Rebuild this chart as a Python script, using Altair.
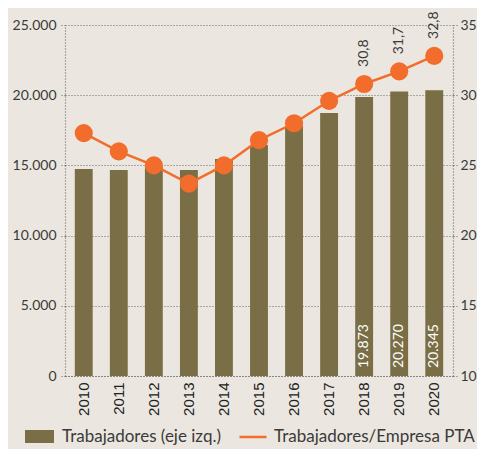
import altair as alt
import pandas as pd

years = ["2010", "2011", "2012", "2013", "2014", "2015", "2016", "2017", "2018", "2019", "2020"]
trabajadores = [14750, 14680, 14900, 14680, 15450, 16450, 17800, 18730, 19873, 20270, 20345]
ratio = [27.3, 26.0, 25.0, 23.7, 25.0, 26.8, 28.0, 29.6, 30.8, 31.7, 32.8]
labeled_years = ["2018", "2019", "2020"]
left_ticks = [0, 5000, 10000, 15000, 20000, 25000]
right_ticks = [10, 15, 20, 25, 30, 35]
bar_name = "Trabajadores (eje izq.)"
line_name = "Trabajadores/Empresa PTA"

BAR = "#7a6e46"
ORANGE = "#f26c2b"
BG = "#ebe7e0"
TXT = "#3a3a3a"
FONT = "Lato"

df = pd.DataFrame({
    "year": years,
    "trab": trabajadores,
    "ratio": ratio,
    "bar_serie": [bar_name] * len(years),
    "line_serie": [line_name] * len(years),
    "lab": [y in labeled_years for y in years],
})

base = alt.Chart(df)

x = alt.X(
    "year:O",
    title=None,
    scale=alt.Scale(paddingInner=0.49, paddingOuter=0.28),
    axis=alt.Axis(
        labelAngle=270, labelFont="Liberation Sans", labelFontSize=15,
        labelColor="#222222", ticks=False, labelPadding=6,
        domain=True, domainColor="#666666", domainDash=[1, 2], domainWidth=1.2,
        labelAlign="right", labelBaseline="middle",
    ),
)

y_left = alt.Y(
    "trab:Q",
    title=None,
    scale=alt.Scale(domain=[0, 25000], nice=False),
    axis=alt.Axis(
        values=left_ticks, format=",d", labelFont=FONT, labelFontSize=14,
        labelColor=TXT, grid=True, gridColor="#666666", gridDash=[1, 2],
        gridWidth=1, domain=True, domainColor="#666666", domainDash=[1, 2],
        domainWidth=1.2, tickColor="#666666", tickDash=[1, 2], tickSize=6,
        labelPadding=3,
    ),
)

bars = base.mark_bar(color=BAR).encode(
    x=x,
    y=y_left,
    color=alt.Color(
        "bar_serie:N",
        scale=alt.Scale(domain=[bar_name], range=[BAR]),
        legend=alt.Legend(
            title=None, orient="none", legendX=-40, legendY=397,
            symbolType="M-1,-0.45L1,-0.45L1,0.45L-1,0.45Z", symbolSize=841,
            symbolStrokeWidth=0, symbolOpacity=1, labelLimit=400,
            labelFont=FONT, labelFontSize=17, labelColor=TXT, labelOffset=8,
        ),
    ),
)

bar_text = base.mark_text(
    angle=270, align="left", baseline="middle", dx=8, color="white",
    font=FONT, fontSize=14,
).transform_filter(alt.datum.lab).encode(
    x=x,
    y=alt.Y(datum=0, scale=alt.Scale(domain=[0, 25000], nice=False)),
    text=alt.Text("trab:Q", format=",d"),
)

left = alt.layer(bars, bar_text)

y_right = alt.Y(
    "ratio:Q",
    title=None,
    scale=alt.Scale(domain=[10, 35], nice=False),
    axis=alt.Axis(
        orient="right", values=right_ticks, format="d", labelFont=FONT,
        labelFontSize=14, labelColor=TXT, grid=False, domain=True,
        domainColor="#666666", domainDash=[1, 2], domainWidth=1.2,
        tickColor="#666666", tickDash=[1, 2], tickSize=4, labelPadding=3,
    ),
)

line = base.mark_line(strokeWidth=2.5).encode(
    x=x,
    y=y_right,
    stroke=alt.Stroke(
        "line_serie:N",
        scale=alt.Scale(domain=[line_name], range=[ORANGE]),
        legend=alt.Legend(
            title=None, orient="none", legendX=173, legendY=397,
            symbolSize=729, symbolStrokeWidth=2.5, labelLimit=400,
            labelFont=FONT, labelFontSize=17, labelColor=TXT, labelOffset=6,
        ),
    ),
)

points = base.mark_circle(size=330, color=ORANGE, opacity=1).encode(
    x=x, y=alt.Y("ratio:Q", scale=alt.Scale(domain=[10, 35], nice=False)),
)

line_text = base.mark_text(
    angle=270, align="left", baseline="middle", dx=17, color=TXT,
    font=FONT, fontSize=14,
).transform_filter(alt.datum.lab).encode(
    x=x,
    y=alt.Y("ratio:Q", scale=alt.Scale(domain=[10, 35], nice=False)),
    text=alt.Text("ratio:Q", format=".1f"),
)

right = alt.layer(line, points, line_text)

chart = alt.layer(left, right).resolve_scale(
    y="independent"
).properties(
    width=388,
    height=351,
    autosize=alt.AutoSizeParams(type="none"),
    padding={"left": 57, "top": 17, "right": 24, "bottom": 73},
    background=BG,
).configure(
    locale={"number": {"decimal": ",", "thousands": ".", "grouping": [3], "currency": ["", " €"]}},
).configure_view(stroke=None)

chart.save("out.html", embed_options={"renderer": "svg", "actions": False})
